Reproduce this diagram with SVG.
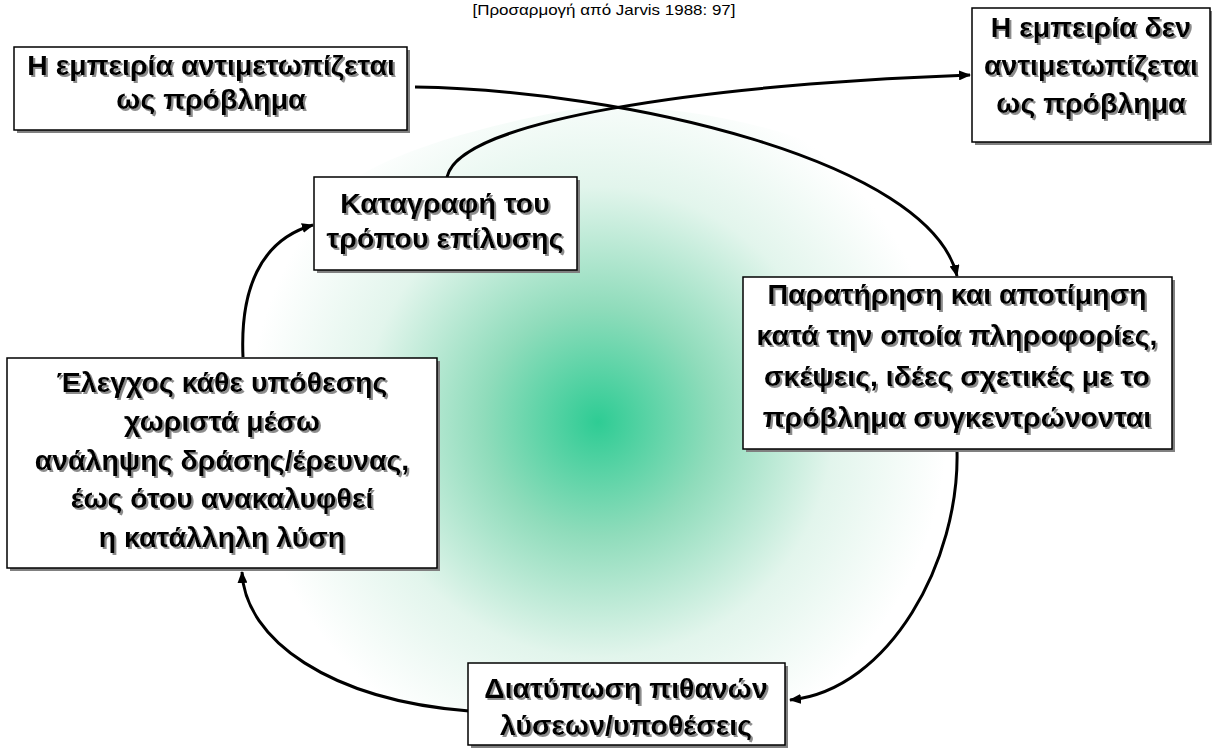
<svg xmlns="http://www.w3.org/2000/svg" width="1212" height="756" viewBox="0 0 1212 756">
  <defs>
    <radialGradient id="glow" gradientUnits="userSpaceOnUse" cx="598" cy="422" r="380">
      <stop offset="0" stop-color="#2ECC94"/>
      <stop offset="0.3" stop-color="#8FDCBB"/>
      <stop offset="0.62" stop-color="#E2F5EC"/>
      <stop offset="0.92" stop-color="#FFFFFF"/>
    </radialGradient>
    <filter id="textShadow" x="-5%" y="-20%" width="110%" height="140%">
      <feOffset in="SourceAlpha" dx="2" dy="2" result="off"/>
      <feFlood flood-color="#8c8c8c"/>
      <feComposite in2="off" operator="in" result="shadow"/>
      <feMerge>
        <feMergeNode in="shadow"/>
        <feMergeNode in="SourceGraphic"/>
      </feMerge>
    </filter>
    <marker id="arrow" viewBox="0 0 12 10" refX="11" refY="5" markerWidth="12" markerHeight="10" markerUnits="userSpaceOnUse" orient="auto">
      <path d="M0,0 L12,5 L0,10 Z" fill="#000"/>
    </marker>
  </defs>
  <style>
    .shadow { fill: #808080; }
    .box { fill: #ffffff; stroke: #000000; stroke-width: 1.5; }
    .label { font-family: "Liberation Sans", Arial, sans-serif; font-weight: bold; font-size: 28.5px; fill: #000; text-anchor: middle; filter: url(#textShadow); }
    .title { font-family: "Liberation Sans", Arial, sans-serif; font-size: 15px; fill: #000; text-anchor: middle; }
    .link { fill: none; stroke: #000; stroke-width: 3; marker-end: url(#arrow); }
  </style>

  <rect width="1212" height="756" fill="#ffffff"/>

  <!-- soft green field enclosed by the cycle -->
  <path fill="url(#glow)" d="M 313 225 C 330 160, 500 120, 600 105 C 760 110, 930 160, 957 277 L 957 450 C 960 560, 890 690, 789 700 L 469 711 C 330 700, 245 640, 242 572 L 243 357 C 240 290, 260 240, 313 225 Z"/>

  <text class="title" x="604" y="15" textLength="263" lengthAdjust="spacingAndGlyphs">[Προσαρμογή από Jarvis 1988: 97]</text>

  <!-- connectors -->
  <g id="connectors">
    <path class="link" d="M 415 87 C 620 90, 930 160, 957 276"/>
    <path class="link" d="M 447 177 C 460 120, 700 85, 970 75"/>
    <path class="link" d="M 957 450 C 960 560, 890 690, 790 700"/>
    <path class="link" d="M 469 711 C 330 700, 245 640, 242 572"/>
    <path class="link" d="M 243 357 C 240 290, 260 240, 313 225"/>
  </g>

  <g id="node-problem">
    <rect class="shadow" x="17" y="50" width="393" height="83"/>
    <rect class="box" x="14" y="47" width="393" height="83"/>
    <text class="label" x="211" y="75">Η εμπειρία αντιμετωπίζεται</text>
    <text class="label" x="211" y="109">ως πρόβλημα</text>
  </g>

  <g id="node-no-problem">
    <rect class="shadow" x="975" y="11" width="238" height="134"/>
    <rect class="box" x="972" y="8" width="238" height="134"/>
    <text class="label" x="1091" y="37">Η εμπειρία δεν</text>
    <text class="label" x="1091" y="75">αντιμετωπίζεται</text>
    <text class="label" x="1091" y="113">ως πρόβλημα</text>
  </g>

  <g id="node-record">
    <rect class="shadow" x="317" y="180" width="263" height="93"/>
    <rect class="box" x="314" y="177" width="263" height="93"/>
    <text class="label" x="445" y="213">Καταγραφή του</text>
    <text class="label" x="445" y="248">τρόπου επίλυσης</text>
  </g>

  <g id="node-observe">
    <rect class="shadow" x="746" y="280" width="429" height="172"/>
    <rect class="box" x="743" y="277" width="429" height="172"/>
    <text class="label" x="957" y="304">Παρατήρηση και αποτίμηση</text>
    <text class="label" x="957" y="345">κατά την οποία πληροφορίες,</text>
    <text class="label" x="957" y="386">σκέψεις, ιδέες σχετικές με το</text>
    <text class="label" x="957" y="427">πρόβλημα συγκεντρώνονται</text>
  </g>

  <g id="node-test">
    <rect class="shadow" x="10" y="361" width="430" height="210"/>
    <rect class="box" x="7" y="358" width="430" height="210"/>
    <text class="label" x="222" y="392">Έλεγχος κάθε υπόθεσης</text>
    <text class="label" x="222" y="431">χωριστά μέσω</text>
    <text class="label" x="222" y="470">ανάληψης δράσης/έρευνας,</text>
    <text class="label" x="222" y="508">έως ότου ανακαλυφθεί</text>
    <text class="label" x="222" y="547">η κατάλληλη λύση</text>
  </g>

  <g id="node-hypotheses">
    <rect class="shadow" x="471" y="666" width="317" height="82"/>
    <rect class="box" x="468" y="663" width="317" height="82"/>
    <text class="label" x="626" y="698">Διατύπωση πιθανών</text>
    <text class="label" x="626" y="735">λύσεων/υποθέσεις</text>
  </g>
</svg>
